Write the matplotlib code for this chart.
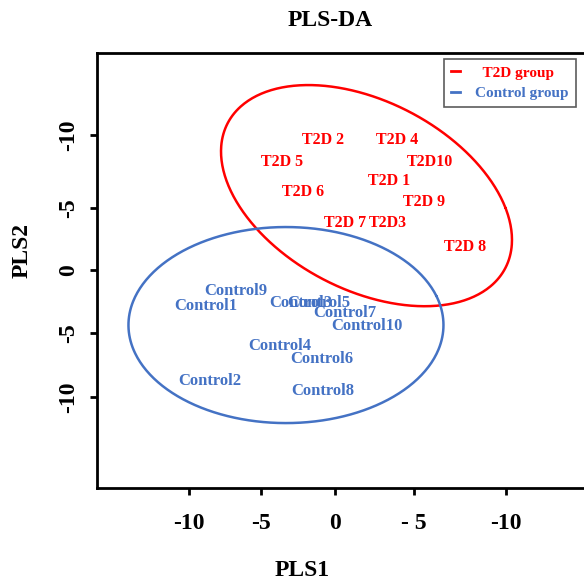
import numpy as np
import matplotlib
matplotlib.use('Agg')
import matplotlib.pyplot as plt
from matplotlib.lines import Line2D

plt.rcParams['font.family'] = ['Liberation Serif', 'DejaVu Serif']
plt.rcParams['font.weight'] = 'bold'

# PLS-DA scores
t2d_names = ['T2D 2', 'T2D 4', 'T2D 5', 'T2D10', 'T2D 1', 'T2D 6', 'T2D 9', 'T2D 7', 'T2D3', 'T2D 8']
t2d_x = [-0.8, 4.13, -3.53, 6.33, 3.6, -2.13, 5.93, 0.67, 3.53, 8.67]
t2d_y = [10.32, 10.32, 8.57, 8.57, 7.06, 6.19, 5.40, 3.73, 3.73, 1.83]

ctl_names = ['Control9', 'Control1', 'Control3', 'Control5', 'Control7',
             'Control10', 'Control4', 'Control6', 'Control2', 'Control8']
ctl_x = [-6.6, -8.6, -2.27, -1.07, 0.67, 2.13, -3.67, -0.87, -8.33, -0.8]
ctl_y = [-1.67, -2.86, -2.62, -2.62, -3.41, -4.44, -6.03, -7.06, -8.81, -9.6]

# confidence ellipses: centre and covariance (data units)
t2d_center = [2.1, 5.9]
t2d_cov = [[94.1, -34.0], [-34.0, 77.0]]
ctl_center = [-3.27, -4.37]
ctl_cov = [[110.3, 0.0], [0.0, 60.5]]

xtick_pos = [-9.73, -4.93, 0, 5.27, 11.4]
xtick_lab = ['-10', '-5', '0', '- 5', '-10']
ytick_pos = [10.71, 4.92, 0, -5.0, -10.08]
ytick_lab = ['-10', '-5', '0', '-5', '-10']

red = '#FF0000'
blue = '#4472C4'


def ellipse_pts(center, cov, n=400):
    t = np.linspace(0.3, 0.3 + 2 * np.pi, n)
    L = np.linalg.cholesky(np.array(cov))
    pts = L @ np.vstack([np.cos(t), np.sin(t)])
    return pts[0] + center[0], pts[1] + center[1]


fig = plt.figure(figsize=(5.84, 5.79), dpi=100)
ax = fig.add_axes([97 / 584, 91 / 579, 503 / 584, 435 / 579])
ax.set_xlim(-15.87, 17.67)
ax.set_ylim(-17.3, 17.22)

ex, ey = ellipse_pts(t2d_center, t2d_cov)
ax.plot(ex, ey, color=red, lw=1.8, solid_capstyle='round', solid_joinstyle='round')
ex, ey = ellipse_pts(ctl_center, ctl_cov)
ax.plot(ex, ey, color=blue, lw=1.8, solid_capstyle='round', solid_joinstyle='round')

for n, x, y in zip(t2d_names, t2d_x, t2d_y):
    ax.text(x, y, n, color=red, fontsize=11.5, fontweight='bold', ha='center', va='center')
for n, x, y in zip(ctl_names, ctl_x, ctl_y):
    ax.text(x, y, n, color=blue, fontsize=12, fontweight='bold', ha='center', va='center')

for s in ['top', 'left', 'bottom']:
    ax.spines[s].set_linewidth(2)
ax.spines['right'].set_visible(False)

ax.set_xticks(xtick_pos)
ax.set_xticklabels(xtick_lab, fontsize=17, fontweight='bold')
ax.set_yticks(ytick_pos)
ax.set_yticklabels(ytick_lab, fontsize=17, fontweight='bold', rotation=90, va='center')
ax.tick_params(direction='out', length=5, width=2)
ax.tick_params(axis='x', pad=13)
ax.tick_params(axis='y', pad=8)

fig.text(330 / 584, 1 - 20 / 579, 'PLS-DA', fontsize=17, fontweight='bold', ha='center', va='center')
fig.text(302 / 584, 1 - 570 / 579, 'PLS1', fontsize=17, fontweight='bold', ha='center', va='center')
fig.text(22 / 584, 1 - 250 / 579, 'PLS2', fontsize=17, fontweight='bold', ha='center', va='center',
         rotation=90)

handles = [Line2D([], [], color=red, lw=2), Line2D([], [], color=blue, lw=2)]
leg = ax.legend(handles, ['  T2D group', 'Control group'], loc='upper left',
                bbox_to_anchor=(444 / 584, 1 - 59 / 579), bbox_transform=fig.transFigure,
                borderaxespad=0, fancybox=False, handlelength=0.6, handletextpad=1.0,
                prop={'size': 11, 'weight': 'bold'}, borderpad=0.45, labelspacing=0.45)
leg.get_frame().set_edgecolor('#333333')
leg.get_frame().set_linewidth(1.2)
for txt, c in zip(leg.get_texts(), [red, blue]):
    txt.set_color(c)

fig.savefig('out.png', dpi=100)
